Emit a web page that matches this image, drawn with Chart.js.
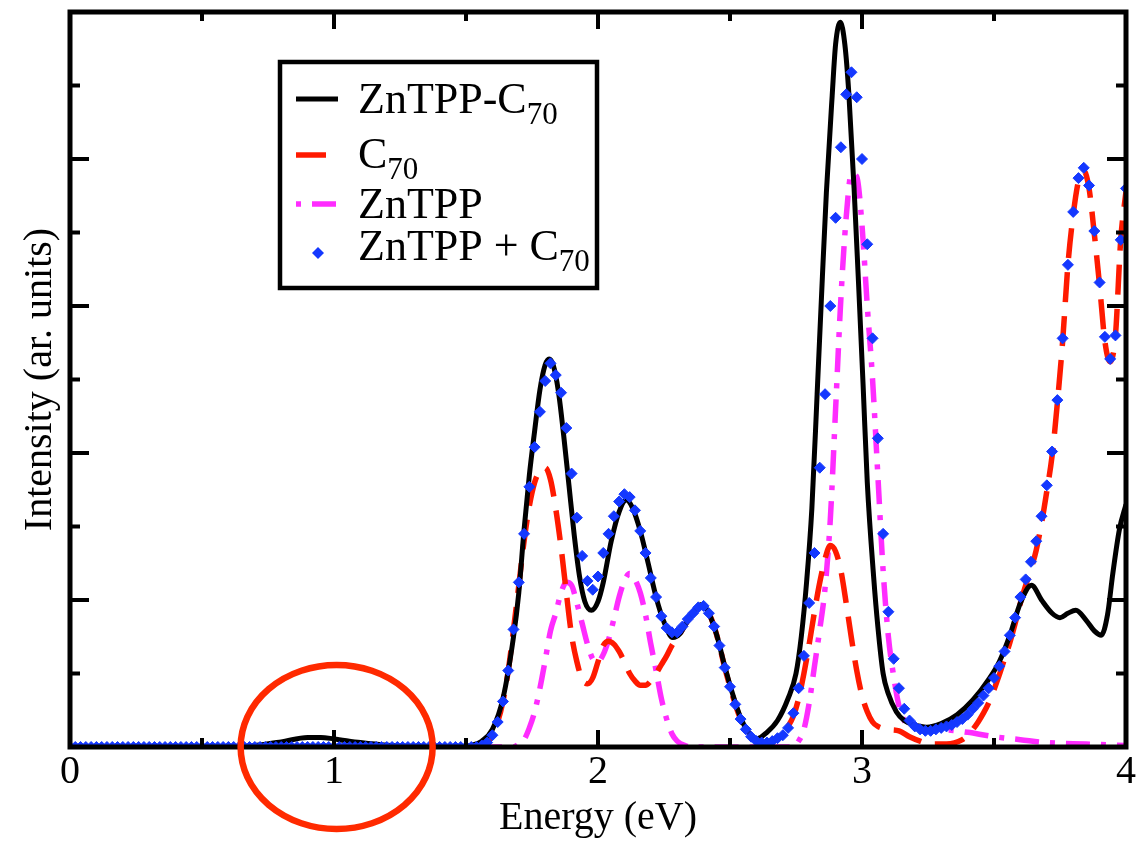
<!DOCTYPE html>
<html>
<head>
<meta charset="utf-8">
<title>ZnTPP-C70 absorption</title>
<script src="https://cdn.jsdelivr.net/npm/chart.js@4.4.1/dist/chart.umd.min.js"></script>
<style>
  html, body { margin: 0; padding: 0; background: #fff; }
  canvas { display: block; }
</style>
</head>
<body>
<canvas id="spectrum" width="1140" height="841"></canvas>
<script>
// Spectra, energy in eV, intensity in arbitrary units

// ZnTPP-C70 complex (solid black)
const complexEnergy = [0, 0.60, 0.70, 0.80, 0.90, 0.95, 1.00, 1.10, 1.20, 1.30,
  1.45, 1.52, 1.56, 1.60, 1.64, 1.68, 1.70, 1.72, 1.74, 1.76,
  1.78, 1.80, 1.815, 1.83, 1.85, 1.87, 1.89, 1.91, 1.93, 1.95,
  1.975, 2.00, 2.02, 2.05, 2.08, 2.107, 2.13, 2.16, 2.19, 2.22,
  2.25, 2.283, 2.31, 2.34, 2.37, 2.395, 2.42, 2.45, 2.48, 2.51,
  2.54, 2.57, 2.60, 2.64, 2.68, 2.72, 2.75, 2.77, 2.79, 2.81,
  2.83, 2.85, 2.865, 2.887, 2.90, 2.918, 2.935, 2.95, 2.97, 2.987,
  3.004, 3.02, 3.044, 3.06, 3.08, 3.10, 3.13, 3.16, 3.20, 3.245,
  3.30, 3.36, 3.42, 3.48, 3.52, 3.56, 3.60, 3.642, 3.68, 3.72,
  3.75, 3.78, 3.81, 3.85, 3.88, 3.906, 3.93, 3.95, 3.975, 4.00];
const complexIntensity = [0, 0, 0.01, 0.035, 0.065, 0.065, 0.055, 0.03, 0.012, 0.005,
  0, 0.01, 0.04, 0.12, 0.33, 0.75, 1.05, 1.48, 1.85, 2.15,
  2.43, 2.60, 2.64, 2.60, 2.42, 2.12, 1.78, 1.44, 1.16, 0.99,
  0.93, 0.99, 1.12, 1.40, 1.60, 1.68, 1.63, 1.47, 1.25, 1.02,
  0.85, 0.745, 0.77, 0.86, 0.94, 0.97, 0.91, 0.76, 0.55, 0.36,
  0.20, 0.10, 0.055, 0.10, 0.18, 0.33, 0.50, 0.75, 1.12, 1.62,
  2.40, 3.20, 3.77, 4.43, 4.78, 4.93, 4.78, 4.45, 3.80, 3.15,
  2.47, 1.80, 1.16, 0.82, 0.50, 0.36, 0.24, 0.18, 0.15, 0.135,
  0.16, 0.22, 0.32, 0.46, 0.58, 0.76, 0.98, 1.10, 1.00, 0.91,
  0.88, 0.91, 0.93, 0.86, 0.79, 0.76, 0.90, 1.18, 1.48, 1.65];

// isolated C70 (red dashed)
const c70Energy = [0, 1.50, 1.56,
  1.60, 1.62, 1.64, 1.66, 1.68, 1.70, 1.72, 1.74, 1.76, 1.78,
  1.80, 1.82, 1.84, 1.86, 1.88, 1.90, 1.92, 1.94, 1.96, 1.98,
  2.00, 2.02, 2.04, 2.06, 2.08, 2.10, 2.12, 2.14, 2.16, 2.18,
  2.20, 2.22, 2.24, 2.26, 2.28, 2.30, 2.32, 2.34, 2.36, 2.38,
  2.40, 2.42, 2.44, 2.46, 2.48, 2.50, 2.52, 2.54, 2.56, 2.58,
  2.60, 2.63, 2.66,
  2.68, 2.70, 2.72, 2.74, 2.76, 2.78, 2.80, 2.82, 2.84, 2.86,
  2.88, 2.90, 2.92, 2.94, 2.96, 2.98, 3.00, 3.02, 3.04, 3.06,
  3.10, 3.14, 3.18, 3.22, 3.26, 3.32,
  3.38, 3.40, 3.42, 3.44, 3.46, 3.48, 3.50, 3.52, 3.54, 3.56,
  3.58, 3.60, 3.62, 3.64, 3.66, 3.68, 3.70, 3.72, 3.74, 3.76,
  3.78, 3.80, 3.82, 3.84, 3.86, 3.88, 3.90, 3.92, 3.94, 3.96,
  3.98, 4.00];
const c70Intensity = [0, 0, 0.01,
  0.08, 0.17, 0.31, 0.52, 0.80, 1.10, 1.40, 1.64, 1.80, 1.88,
  1.90, 1.82, 1.62, 1.36, 1.05, 0.76, 0.58, 0.46, 0.43, 0.47,
  0.58, 0.69, 0.72, 0.70, 0.65, 0.58, 0.50, 0.45, 0.42, 0.42,
  0.45, 0.50, 0.56, 0.62, 0.69, 0.74, 0.80, 0.86, 0.91, 0.95,
  0.96, 0.91, 0.82, 0.69, 0.54, 0.41, 0.29, 0.19, 0.12, 0.07,
  0.04, 0.03, 0.04,
  0.06, 0.09, 0.14, 0.21, 0.33, 0.50, 0.70, 0.92, 1.12, 1.28,
  1.37, 1.33, 1.20, 0.98, 0.74, 0.52, 0.35, 0.24, 0.17, 0.14,
  0.12, 0.11, 0.07, 0.04, 0.02, 0.02,
  0.05, 0.08, 0.12, 0.17, 0.23, 0.30, 0.39, 0.49, 0.60, 0.71,
  0.84, 0.98, 1.10, 1.21, 1.34, 1.52, 1.74, 1.98, 2.34, 2.76,
  3.28, 3.62, 3.85, 3.92, 3.80, 3.49, 3.14, 2.76, 2.62, 2.80,
  3.45, 3.78];

// isolated ZnTPP (magenta dash-dot)
const zntppEnergy = [0, 1.68,
  1.70, 1.72, 1.74, 1.76, 1.78, 1.80, 1.82, 1.84, 1.86, 1.88,
  1.90, 1.92, 1.94, 1.96, 1.98, 2.00, 2.02, 2.04, 2.06, 2.08,
  2.10, 2.12, 2.14, 2.16, 2.18, 2.20, 2.22, 2.24, 2.26, 2.28,
  2.30, 2.33, 2.36, 2.74,
  2.76, 2.78, 2.80, 2.82, 2.84, 2.86, 2.88, 2.90, 2.92, 2.94,
  2.96, 2.98, 3.00, 3.02, 3.04, 3.06, 3.08, 3.10, 3.12, 3.14,
  3.16, 3.18, 3.22, 3.30, 3.40, 3.50, 3.60, 3.70, 3.85, 4.00];
const zntppIntensity = [0, 0,
  0.02, 0.05, 0.13, 0.24, 0.40, 0.59, 0.79, 0.91, 1.05, 1.12,
  1.10, 0.98, 0.84, 0.70, 0.60, 0.58, 0.63, 0.73, 0.87, 1.02,
  1.13, 1.18, 1.14, 1.05, 0.90, 0.70, 0.52, 0.33, 0.19, 0.09,
  0.04, 0.01, 0, 0,
  0.04, 0.12, 0.30, 0.55, 0.80, 1.08, 1.55, 2.30, 3.05, 3.60,
  3.90, 3.88, 3.55, 3.00, 2.50, 1.85, 1.20, 0.75, 0.48, 0.28,
  0.18, 0.14, 0.13, 0.12, 0.10, 0.07, 0.05, 0.03, 0.02, 0.01];

// sum of the two isolated spectra (blue diamonds), sampled every 0.02 eV
const sumStep = 0.02;
const sumIntensity = [
  0, 0, 0, 0, 0, 0, 0, 0, 0, 0,
  0, 0, 0, 0, 0, 0, 0, 0, 0, 0,
  0, 0, 0, 0, 0, 0, 0, 0, 0, 0,
  0, 0, 0, 0, 0, 0, 0, 0, 0, 0,
  0, 0, 0, 0, 0, 0, 0, 0, 0, 0,
  0, 0, 0, 0, 0, 0, 0, 0, 0, 0,
  0, 0, 0, 0, 0, 0, 0, 0, 0, 0,
  0, 0, 0, 0, 0, 0, 0, 0, 0.01, 0.03,
  0.08, 0.17, 0.31, 0.52, 0.80, 1.12, 1.45, 1.77, 2.04, 2.28,
  2.49, 2.61, 2.53, 2.41, 2.17, 1.86, 1.56, 1.30, 1.13, 1.07,
  1.16, 1.32, 1.45, 1.57, 1.67, 1.72, 1.70, 1.61, 1.47, 1.32,
  1.15, 1.02, 0.89, 0.81, 0.78, 0.78, 0.82, 0.87, 0.91, 0.95,
  0.96, 0.91, 0.82, 0.69, 0.54, 0.41, 0.29, 0.19, 0.12, 0.07,
  0.04, 0.03, 0.03, 0.04, 0.06, 0.08, 0.13, 0.23, 0.40, 0.62,
  0.98, 1.32, 1.90, 2.40, 3.00, 3.60, 4.08, 4.44, 4.59, 4.42,
  4.00, 3.42, 2.78, 2.10, 1.45, 0.92, 0.60, 0.40, 0.26, 0.18,
  0.14, 0.12, 0.11, 0.11, 0.12, 0.13, 0.14, 0.15, 0.17, 0.19,
  0.22, 0.26, 0.30, 0.35, 0.40, 0.47, 0.55, 0.65, 0.76, 0.88,
  1.02, 1.14, 1.26, 1.40, 1.57, 1.78, 2.01, 2.36, 2.78, 3.28,
  3.64, 3.87, 3.94, 3.82, 3.51, 3.16, 2.79, 2.64, 2.80, 3.45,
  3.80];

// axis ranges and tick spacing
const energyRange = [0, 4];
const intensityRange = [0, 5];
const energyLabels = [0, 1, 2, 3, 4];
const minorStep = 0.5;

// region of interest marked with an ellipse (energy, intensity)
const highlightCenter = [1.01, 0];

const serif = "'Liberation Serif', 'Times New Roman', serif";

function toPoints(xs, ys) {
  return xs.map((x, i) => ({ x: x, y: ys[i] }));
}

const sumPoints = sumIntensity.map((v, i) => ({ x: +(i * sumStep).toFixed(2), y: v }));

// inward ticks on all four sides plus the box around the plot
const frameTicks = {
  id: 'frameTicks',
  afterDatasetsDraw(chart) {
    const { ctx, chartArea: a, scales: { x, y } } = chart;
    ctx.save();
    ctx.strokeStyle = '#000';
    ctx.lineWidth = 4;
    ctx.lineCap = 'butt';
    ctx.beginPath();
    for (let v = energyRange[0]; v <= energyRange[1] + 1e-6; v += minorStep) {
      const px = x.getPixelForValue(v);
      const len = Number.isInteger(v) ? 17 : 9;
      ctx.moveTo(px, a.bottom); ctx.lineTo(px, a.bottom - len);
      ctx.moveTo(px, a.top); ctx.lineTo(px, a.top + len);
    }
    for (let v = intensityRange[0]; v <= intensityRange[1] + 1e-6; v += minorStep) {
      const py = y.getPixelForValue(v);
      const len = Number.isInteger(v) ? 19 : 10;
      ctx.moveTo(a.left, py); ctx.lineTo(a.left + len, py);
      ctx.moveTo(a.right, py); ctx.lineTo(a.right - len, py);
    }
    ctx.stroke();
    ctx.lineWidth = 5;
    ctx.lineJoin = 'miter';
    ctx.strokeRect(a.left, a.top, a.right - a.left, a.bottom - a.top);
    ctx.restore();
  }
};

// boxed legend with subscripted labels ("C_70")
const boxedLegend = {
  id: 'boxedLegend',
  afterDraw(chart) {
    const { ctx, chartArea: a } = chart;
    const left = a.left + 210, top = a.top + 50, w = 317, h = 226;
    const baselines = [51, 106, 156, 198];
    const marks = [37, 93, 142, 191];
    ctx.save();
    ctx.fillStyle = '#fff';
    ctx.fillRect(left, top, w, h);
    ctx.strokeStyle = '#000';
    ctx.lineWidth = 4.5;
    ctx.strokeRect(left, top, w, h);

    chart.data.datasets.forEach((ds, i) => {
      const my = top + marks[i];
      const sx = left + 16;
      if (ds.showLine === false) {
        const r = 6;
        const cx = left + 38;
        ctx.fillStyle = ds.pointBackgroundColor;
        ctx.beginPath();
        ctx.moveTo(cx - r, my); ctx.lineTo(cx, my - r);
        ctx.lineTo(cx + r, my); ctx.lineTo(cx, my + r);
        ctx.closePath();
        ctx.fill();
      } else {
        ctx.strokeStyle = ds.borderColor;
        ctx.lineWidth = ds.borderWidth;
        ctx.setLineDash(ds.borderDash || []);
        ctx.lineDashOffset = ds.legendDashOffset || 0;
        ctx.beginPath();
        ctx.moveTo(sx, my); ctx.lineTo(sx + 42, my);
        ctx.stroke();
        ctx.setLineDash([]);
        ctx.lineDashOffset = 0;
      }

      const [main, sub] = ds.label.split('_');
      const tx = left + 78, ty = top + baselines[i];
      ctx.fillStyle = '#000';
      ctx.textBaseline = 'alphabetic';
      ctx.textAlign = 'left';
      ctx.font = `44px ${serif}`;
      ctx.fillText(main, tx, ty);
      if (sub) {
        const mw = ctx.measureText(main).width;
        ctx.font = `31px ${serif}`;
        ctx.fillText(sub, tx + mw, ty + 11);
      }
    });
    ctx.restore();
  }
};

// red ellipse around the weak low-energy band
const highlight = {
  id: 'highlight',
  afterDraw(chart) {
    const { ctx, scales: { x, y } } = chart;
    const cx = x.getPixelForValue(highlightCenter[0]);
    const cy = y.getPixelForValue(highlightCenter[1]);
    ctx.save();
    ctx.strokeStyle = '#ff2a00';
    ctx.lineWidth = 6.5;
    ctx.beginPath();
    ctx.ellipse(cx, cy, 96, 82, 0, 0, Math.PI * 2);
    ctx.stroke();
    ctx.restore();
  }
};

const lineDefaults = {
  showLine: true,
  fill: false,
  pointRadius: 0,
  pointHoverRadius: 0,
  cubicInterpolationMode: 'monotone',
  borderCapStyle: 'butt'
};

new Chart(document.getElementById('spectrum'), {
  type: 'scatter',
  data: {
    datasets: [
      Object.assign({}, lineDefaults, {
        label: 'ZnTPP-C_70',
        data: toPoints(complexEnergy, complexIntensity),
        borderColor: '#000000',
        borderWidth: 5,
        order: 1
      }),
      Object.assign({}, lineDefaults, {
        label: 'C_70',
        data: toPoints(c70Energy, c70Intensity),
        borderColor: '#ff1a00',
        borderWidth: 5.5,
        borderDash: [30, 14],
        order: 3
      }),
      Object.assign({}, lineDefaults, {
        label: 'ZnTPP',
        data: toPoints(zntppEnergy, zntppIntensity),
        borderColor: '#ff2cff',
        borderWidth: 5.5,
        borderDash: [24, 11, 5, 11],
        legendDashOffset: 35,
        order: 4
      }),
      {
        label: 'ZnTPP + C_70',
        data: sumPoints,
        showLine: false,
        pointStyle: 'rectRot',
        pointRadius: 5.5,
        pointHoverRadius: 5.5,
        pointBorderWidth: 1,
        pointBackgroundColor: '#1438ff',
        pointBorderColor: '#1438ff',
        order: 0
      }
    ]
  },
  options: {
    responsive: false,
    animation: false,
    devicePixelRatio: 1,
    layout: { padding: { left: 0, right: 13, top: 12, bottom: 0 } },
    plugins: {
      legend: { display: false },
      tooltip: { enabled: false }
    },
    scales: {
      x: {
        type: 'linear',
        min: energyRange[0],
        max: energyRange[1],
        grid: { display: false, drawTicks: false },
        border: { display: false },
        ticks: {
          stepSize: 1,
          padding: 4,
          color: '#000',
          font: { family: serif, size: 40, lineHeight: 1.05 },
          callback: v => energyLabels.includes(v) ? String(v) : ''
        },
        title: {
          display: true,
          text: 'Energy (eV)',
          color: '#000',
          font: { family: serif, size: 40, lineHeight: 1.05 },
          padding: { top: 0, bottom: 2 }
        }
      },
      y: {
        min: intensityRange[0],
        max: intensityRange[1],
        grid: { display: false, drawTicks: false },
        border: { display: false },
        ticks: { display: false },
        title: {
          display: true,
          text: 'Intensity (ar. units)',
          color: '#000',
          font: { family: serif, size: 40, lineHeight: 1.05 },
          padding: { top: 19, bottom: 9 }
        }
      }
    }
  },
  plugins: [frameTicks, boxedLegend, highlight]
});
</script>
</body>
</html>
